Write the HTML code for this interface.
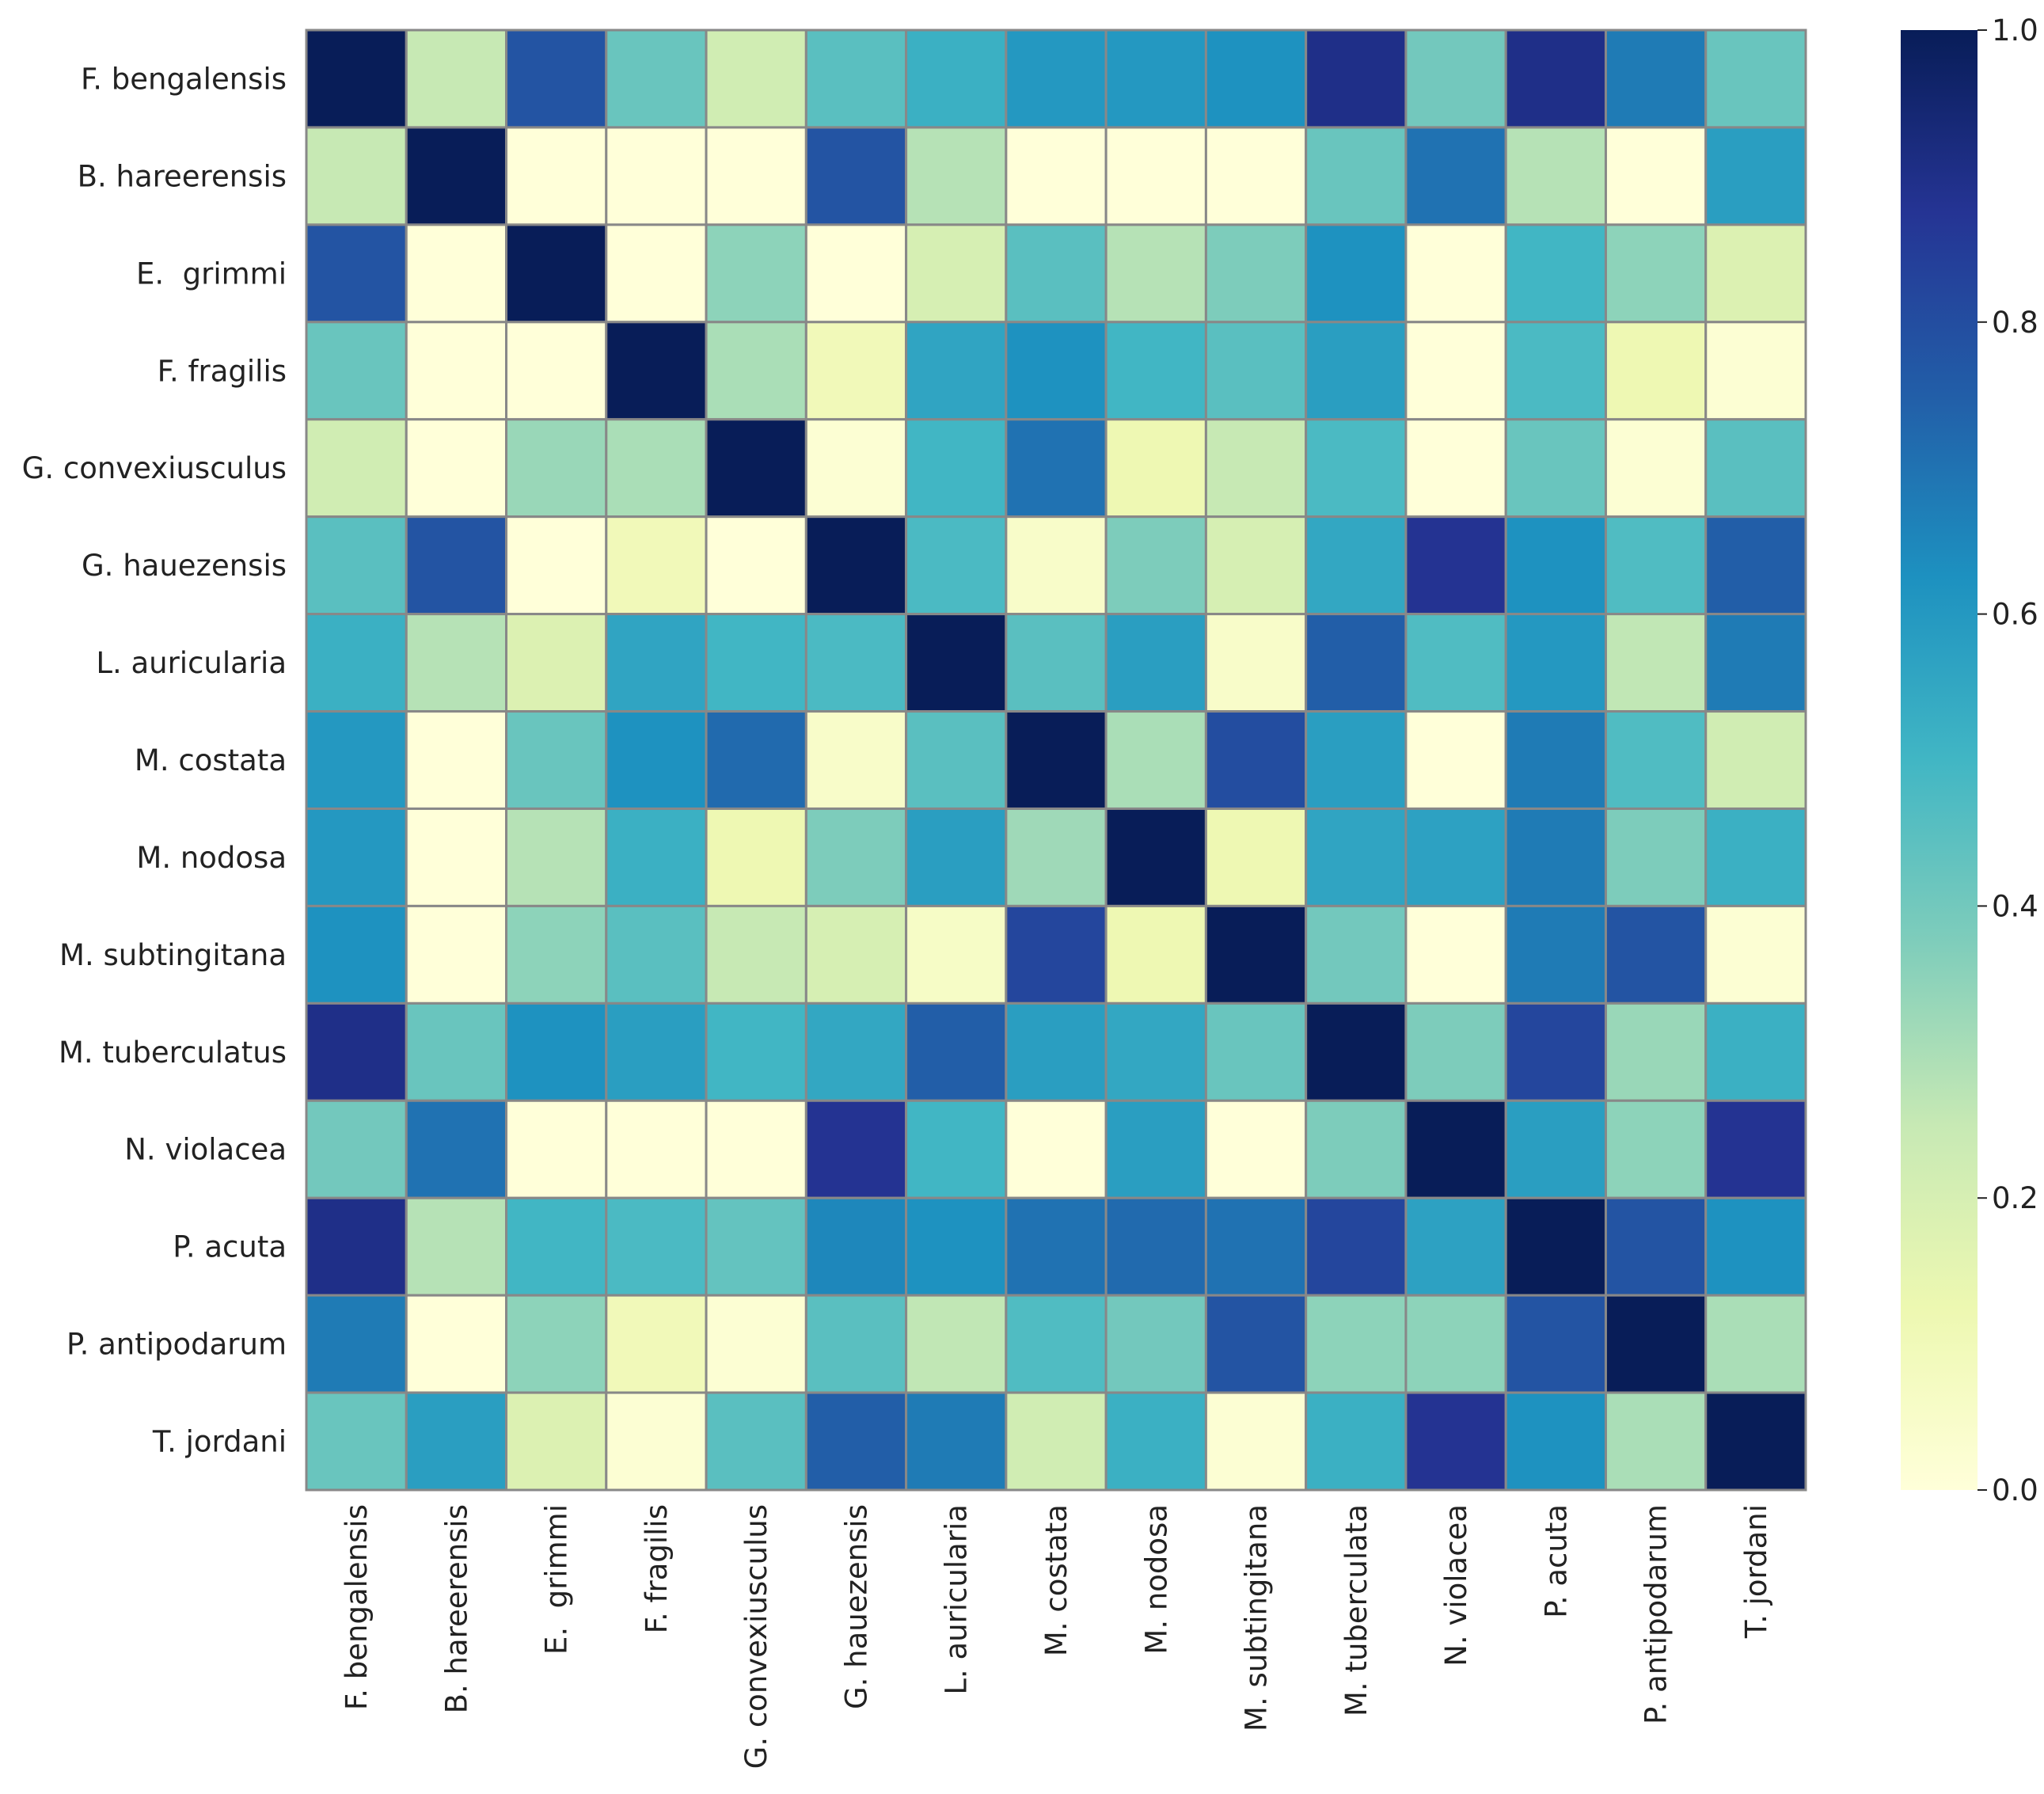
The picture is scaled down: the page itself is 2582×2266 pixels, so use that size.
<!DOCTYPE html>
<html><head><meta charset="utf-8">
<style>
html,body{margin:0;padding:0;background:#fff;}
svg{display:block;font-family:"DejaVu Sans","Liberation Sans",sans-serif;}
text{white-space:pre;}
</style></head>
<body>
<svg id="chart" width="2582" height="2266" viewBox="0 0 2582 2266" xmlns="http://www.w3.org/2000/svg">
<rect width="2582" height="2266" fill="#fff"/>
<g id="cells"></g><g id="ylabels"></g><g id="xlabels"></g><g id="cbar"></g>
</svg>
<script>
const species = ["F. bengalensis","B. hareerensis","E.  grimmi","F. fragilis","G. convexiusculus","G. hauezensis","L. auricularia","M. costata","M. nodosa","M. subtingitana","M. tuberculata","N. violacea","P. acuta","P. antipodarum","T. jordani"];
const rowLabels = ["F. bengalensis","B. hareerensis","E.  grimmi","F. fragilis","G. convexiusculus","G. hauezensis","L. auricularia","M. costata","M. nodosa","M. subtingitana","M. tuberculatus","N. violacea","P. acuta","P. antipodarum","T. jordani"];
const values = [
[1,0.25,0.78,0.42,0.22,0.45,0.52,0.6,0.6,0.62,0.9,0.4,0.9,0.68,0.42],
[0.25,1,0,0,0,0.78,0.28,0,0,0,0.42,0.7,0.28,0,0.58],
[0.78,0,1,0,0.35,0,0.2,0.45,0.28,0.38,0.62,0,0.5,0.35,0.18],
[0.42,0,0,1,0.3,0.1,0.56,0.62,0.5,0.45,0.58,0,0.48,0.12,0.02],
[0.22,0,0.33,0.3,1,0.02,0.5,0.7,0.12,0.25,0.48,0,0.42,0.02,0.45],
[0.45,0.78,0,0.1,0,1,0.48,0.05,0.38,0.2,0.55,0.88,0.62,0.47,0.75],
[0.52,0.28,0.18,0.56,0.5,0.48,1,0.45,0.58,0.05,0.75,0.47,0.6,0.26,0.68],
[0.6,0,0.42,0.62,0.72,0.05,0.45,1,0.3,0.8,0.58,0,0.68,0.47,0.22],
[0.6,0,0.28,0.52,0.12,0.38,0.58,0.32,1,0.12,0.56,0.57,0.68,0.38,0.52],
[0.62,0,0.35,0.45,0.25,0.2,0.06,0.82,0.12,1,0.4,0,0.68,0.78,0.02],
[0.9,0.42,0.62,0.58,0.5,0.55,0.75,0.58,0.55,0.42,1,0.38,0.82,0.33,0.52],
[0.4,0.7,0,0,0,0.88,0.5,0,0.58,0,0.38,1,0.58,0.35,0.88],
[0.9,0.28,0.5,0.48,0.43,0.65,0.62,0.7,0.72,0.7,0.82,0.57,1,0.78,0.62],
[0.68,0,0.35,0.1,0.02,0.45,0.26,0.47,0.4,0.78,0.35,0.35,0.78,1,0.3],
[0.42,0.58,0.18,0.02,0.45,0.75,0.68,0.22,0.52,0.02,0.52,0.88,0.62,0.3,1]
];
const cbarTicks = [0.0,0.2,0.4,0.6,0.8,1.0];

const NS="http://www.w3.org/2000/svg";
const L=387,R=2281,T=38,B=1882;
const n=species.length, cw=(R-L)/n, ch=(B-T)/n;
const xPos=i=>L+i*cw, yPos=j=>T+j*ch;
const stops=["#ffffd9","#edf8b1","#c7e9b4","#7fcdbb","#41b6c4","#1d91c0","#225ea8","#253494","#081d58"];
function hex(h){return [1,3,5].map(k=>parseInt(h.substr(k,2),16));}
function cmap(v){v=Math.max(0,Math.min(1,v));const p=v*(stops.length-1);const i=Math.min(Math.floor(p),stops.length-2);const f=p-i;const a=hex(stops[i]),b=hex(stops[i+1]);return `rgb(${a.map((x,k)=>Math.round(x+(b[k]-x)*f)).join(",")})`;}
function mk(tag,attrs,parent){const e=document.createElementNS(NS,tag);for(const k in attrs)e.setAttribute(k,attrs[k]);parent.appendChild(e);return e;}

const cells=document.getElementById("cells");
values.forEach((row,j)=>row.forEach((v,i)=>{
  const r=mk("rect",{x:xPos(i),y:yPos(j),width:cw,height:ch,fill:cmap(v),stroke:"#888",["stroke-width"]:3},cells);
  
  
}));
const FS=37;
const yl=document.getElementById("ylabels");
rowLabels.forEach((s,j)=>{
  const t=mk("text",{x:362,y:yPos(j)+ch/2+13,"text-anchor":"end","font-size":FS,fill:"#222"},yl);
  t.textContent=s;
  
  
});
const xl=document.getElementById("xlabels");
species.forEach((s,i)=>{
  const cx=xPos(i)+cw/2+13;
  const t=mk("text",{x:cx,y:1900,"text-anchor":"end","font-size":FS,fill:"#222",transform:`rotate(-90 ${cx} 1900)`},xl);
  t.textContent=s;
  
  
});
const cb=document.getElementById("cbar");
const defs=mk("defs",{},cb);
const g=mk("linearGradient",{id:"yg",x1:0,y1:1,x2:0,y2:0},defs);
stops.forEach((c,k)=>mk("stop",{offset:k/(stops.length-1),"stop-color":c},g));
const CL=2401,CR=2498;
const bar=mk("rect",{x:CL,y:T,width:CR-CL,height:B-T,fill:"url(#yg)"},cb);


const cy=v=>B-v*(B-T);
cbarTicks.forEach(v=>{
  const ln=mk("line",{x1:CR,x2:CR+12,y1:cy(v),y2:cy(v),stroke:"#222","stroke-width":2},cb);
  
  
  const t=mk("text",{x:CR+18,y:cy(v)+13,"font-size":FS,fill:"#222"},cb);
  t.textContent=v.toFixed(1);
  
  
});
</script>
</body></html>
